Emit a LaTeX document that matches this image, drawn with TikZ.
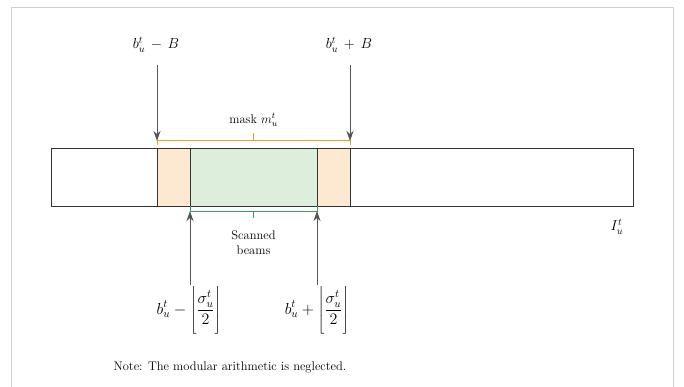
\RequirePackage{fix-cm}
\documentclass[tikz,border=0pt]{standalone}
\usepackage{fontspec}
\usetikzlibrary{arrows.meta}
\definecolor{frameg}{HTML}{D0D0D0}
\definecolor{orfill}{HTML}{FDE8D2}
\definecolor{orline}{HTML}{F29B3A}
\definecolor{grfill}{HTML}{DDEEDC}
\definecolor{grline}{HTML}{3C9A5C}
\definecolor{arr}{HTML}{555555}
\newcommand{\tallstrut}{\rule[-22pt]{0pt}{48pt}}
\begin{document}
\begin{tikzpicture}[x=1pt,y=-1pt,
  lbl/.style={inner sep=1pt,font=\fontsize{12.5}{15}\selectfont},
  mlbl/.style={inner sep=1pt,font=\fontsize{14.5}{17}\selectfont},
  flbl/.style={inner sep=1pt,font=\fontsize{16}{19}\selectfont},
  pointer/.style={draw=arr,line width=0.9pt,-{Stealth[length=10pt,width=7pt,inset=3pt]}},
  barline/.style={draw=black!80,line width=0.8pt}]
\useasboundingbox (0,0) rectangle (684,386);
\draw[frameg,line width=0.8pt] (11,390) -- (11,7.5) -- (673,7.5) -- (673,390);
% bar
\fill[orfill] (157,148) rectangle (190,206);
\fill[orfill] (317,148) rectangle (350,206);
\fill[grfill] (190,148) rectangle (317,206);
\draw[barline] (51,148) rectangle (633,206);
\draw[barline] (157,148) -- (157,206);
\draw[barline] (190,148) -- (190,206);
\draw[barline] (317,148) -- (317,206);
\draw[barline] (350,148) -- (350,206);
% mask bracket
\coordinate (mL) at (157,140);
\coordinate (mR) at (350,140);
\coordinate (mT) at (253.5,133);
\draw[orline,line width=0.8pt] (157,145) -- (mL) -- (mR) -- (350,145);
\draw[orline,line width=0.8pt] (253.5,140) -- (mT);
\node[lbl] (mask) at (253.5,120) {mask $m_u^t$};
% scanned bracket
\coordinate (sL) at (190,211);
\coordinate (sR) at (317,211);
\draw[grline,line width=0.8pt] (190,206) -- (sL) -- (sR) -- (317,206);
\draw[grline,line width=0.8pt] (253.5,211) -- (253.5,218);
\node[lbl,align=center] (scan) at (253.5,243) {Scanned\\[0pt]beams};
% top labels and arrows
\node[mlbl] (tl) at (156,45) {$b_u^t \,-\, B$};
\node[mlbl] (tr) at (349,45) {$b_u^t \,+\, B$};
\coordinate (aTL) at (157,141);
\coordinate (aTR) at (350,141);
\draw[pointer] (157,65) -- (aTL);
\draw[pointer] (350,65) -- (aTR);
% bottom labels and arrows
\node[flbl] (bl) at (189,311) {$\displaystyle b_u^t - \left\lfloor\tallstrut\frac{\sigma_u^t}{2}\right\rfloor$};
\node[flbl] (br) at (317,311) {$\displaystyle b_u^t + \left\lfloor\tallstrut\frac{\sigma_u^t}{2}\right\rfloor$};
\coordinate (aBL) at (190,211);
\coordinate (aBR) at (317,211);
\draw[pointer] (190,285) -- (aBL);
\draw[pointer] (317,285) -- (aBR);
% I label
\node[mlbl] (I) at (617,227) {$I_u^t$};
% note
\node[lbl] (note) at (230,367) {Note: The modular arithmetic is neglected.};
\end{tikzpicture}
\end{document}
